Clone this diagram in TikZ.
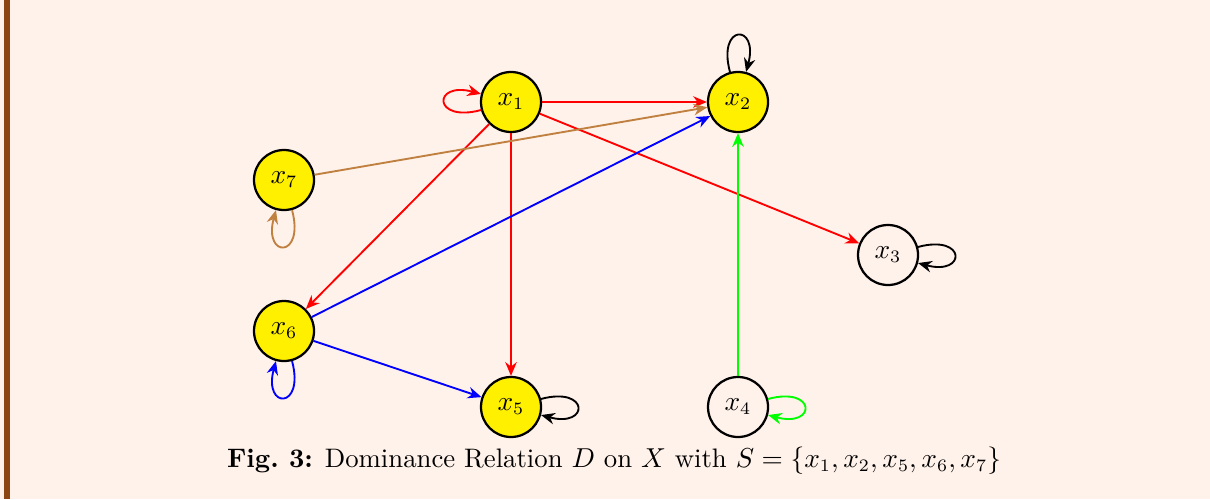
\documentclass[tikz,border=0pt]{standalone}
\usetikzlibrary{arrows.meta}
\definecolor{bgc}{RGB}{255,242,234}
\definecolor{barc}{RGB}{139,69,19}
\definecolor{nodey}{RGB}{255,240,0}
\definecolor{brn}{rgb}{0.75,0.5,0.25}
\definecolor{grn}{RGB}{0,255,0}
\begin{document}
\begin{tikzpicture}[x=0.4pt,y=-0.4pt,
  font=\fontsize{10.7pt}{13pt}\selectfont,
  vert/.style={circle,draw=black,line width=0.9pt,minimum size=24pt,inner sep=0pt},
  sel/.style={vert,fill=nodey},
  edge/.style={line width=0.75pt,-{Stealth[length=5.5pt,width=4.6pt]}}]
\fill[bgc] (0,0) rectangle (1210,499);
\fill[barc] (4,0) rectangle (10,499);
\useasboundingbox (0,0) rectangle (1210,499);
\node[sel] (x1) at (511,102) {$x_1$};
\node[sel] (x2) at (738,102) {$x_2$};
\node[sel] (x7) at (284,180) {$x_7$};
\node[vert] (x3) at (888,255) {$x_3$};
\node[sel] (x6) at (284,331) {$x_6$};
\node[sel] (x5) at (511,407) {$x_5$};
\node[vert] (x4) at (738,407) {$x_4$};
\draw[edge,red] (x1) -- (x2);
\draw[edge,red] (x1) -- (x3);
\draw[edge,red] (x1) -- (x5);
\draw[edge,red] (x1) -- (x6);
\draw[edge,brn] (x7) -- (x2);
\draw[edge,blue] (x6) -- (x2);
\draw[edge,blue] (x6) -- (x5);
\draw[edge,grn] (x4) -- (x2);
\draw[edge,red] (x1) to[loop left] (x1);
\draw[edge,black] (x2) to[loop above] (x2);
\draw[edge,black] (x3) to[loop right] (x3);
\draw[edge,grn] (x4) to[loop right] (x4);
\draw[edge,black] (x5) to[loop right] (x5);
\draw[edge,blue] (x6) to[loop below] (x6);
\draw[edge,brn] (x7) to[loop below] (x7);
\node (cap) at (614,461) {\textbf{Fig.~3:} Dominance Relation $D$ on $X$ with $S=\{x_1,x_2,x_5,x_6,x_7\}$};
\end{tikzpicture}
\end{document}
